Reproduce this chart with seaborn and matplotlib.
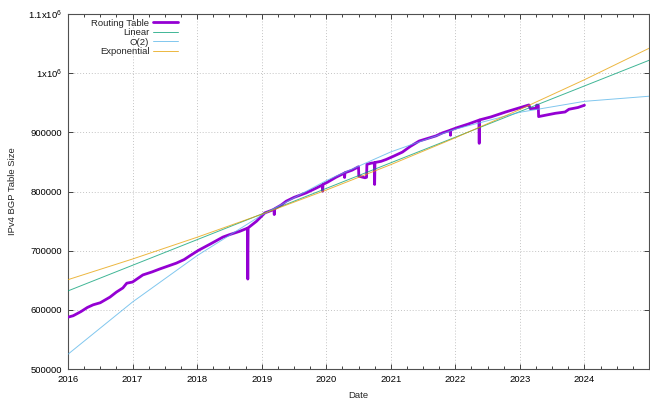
import matplotlib
matplotlib.use("Agg")
import matplotlib.pyplot as plt
import seaborn as sns
import pandas as pd
from matplotlib.ticker import FixedLocator, MultipleLocator

# ---- data ----
rt_year = [2016.00, 2016.08, 2016.20, 2016.30, 2016.39, 2016.50, 2016.65, 2016.75,
           2016.85, 2016.91, 2017.00, 2017.16, 2017.30, 2017.42, 2017.55, 2017.68,
           2017.80, 2017.89, 2018.02, 2018.20, 2018.40, 2018.50, 2018.66, 2018.78,
           2018.785, 2018.79, 2018.92, 2019.05, 2019.15, 2019.19, 2019.195, 2019.20,
           2019.30, 2019.38, 2019.50, 2019.69, 2019.85, 2019.94, 2019.945, 2019.95,
           2020.02, 2020.15, 2020.28, 2020.285, 2020.29, 2020.40, 2020.50, 2020.505,
           2020.60, 2020.625, 2020.63, 2020.70, 2020.745, 2020.75, 2020.755, 2020.85,
           2020.93, 2021.05, 2021.18, 2021.30, 2021.44, 2021.55, 2021.70, 2021.80,
           2021.92, 2021.925, 2021.93, 2022.03, 2022.20, 2022.365, 2022.37, 2022.375,
           2022.55, 2022.78, 2022.95, 2023.14, 2023.16, 2023.25, 2023.26, 2023.285,
           2023.29, 2023.40, 2023.55, 2023.70, 2023.76, 2023.90, 2024.00]
rt_size = [587600, 590000, 597000, 604000, 608500, 612000, 621500, 630000,
           637000, 645000, 647000, 659000, 664000, 669000, 674000, 679000,
           685000, 691500, 700500, 711000, 723000, 727000, 732700, 738000,
           652000, 738500, 749700, 763900, 768000, 770000, 761000, 770700,
           777000, 783600, 790000, 797700, 806000, 811000, 800500, 812000,
           815700, 824000, 831000, 823700, 831700, 836000, 841800, 825900,
           823200, 824000, 845800, 848000, 848500, 811900, 849000, 851000,
           854200, 860000, 866600, 876000, 885300, 889000, 894000, 899000,
           903500, 895000, 904000, 908000, 914000, 920500, 881400, 921000,
           926000, 934400, 940000, 946300, 940100, 940500, 946000, 945800,
           926600, 929000, 932200, 934400, 939000, 942000, 945800]

fit_year = [2016, 2017, 2018, 2019, 2020, 2021, 2022, 2023, 2024, 2025]
linear_fit = [632000, 675300, 718600, 761900, 805200, 848500, 891800, 935100, 978400, 1021700]
quad_fit = [525000, 613300, 691600, 760000, 818400, 866900, 905400, 933900, 952400, 961000]
exp_fit = [651000, 685900, 722700, 761500, 802400, 845400, 890800, 938600, 988900, 1042000]

x_ticks = [2016, 2017, 2018, 2019, 2020, 2021, 2022, 2023, 2024]
y_ticks = [500000, 600000, 700000, 800000, 900000, 1000000, 1100000]
y_tick_labels = ["500000", "600000", "700000", "800000", "900000",
                 r"1x10$^{6}$", r"1.1x10$^{6}$"]

# ---- style ----
sns.set_style("white")
plt.rcParams["font.family"] = ["Liberation Sans", "DejaVu Sans"]
plt.rcParams["font.size"] = 6.8
plt.rcParams["mathtext.fontset"] = "custom"
plt.rcParams["mathtext.rm"] = "Liberation Sans"
plt.rcParams["mathtext.it"] = "Liberation Sans"

fig = plt.figure(figsize=(6.5, 4.01), dpi=100)
ax = fig.add_axes([68 / 650, 1 - 369 / 401, (649 - 68) / 650, (369 - 14) / 401])

rt = pd.DataFrame({"year": rt_year, "size": rt_size})
fits = pd.DataFrame({"year": fit_year, "lin": linear_fit, "quad": quad_fit, "exp": exp_fit})

sns.lineplot(data=rt, x="year", y="size", ax=ax, color="#9400d3", lw=2.0,
             estimator=None, sort=False, label="Routing Table", zorder=3)
sns.lineplot(data=fits, x="year", y="lin", ax=ax, color="#009e73", lw=0.7, alpha=0.75,
             estimator=None, label="Linear", zorder=4)
sns.lineplot(data=fits, x="year", y="quad", ax=ax, color="#56b4e9", lw=0.7, alpha=0.75,
             estimator=None, label="O(2)", zorder=4)
sns.lineplot(data=fits, x="year", y="exp", ax=ax, color="#e69f00", lw=0.7, alpha=0.75,
             estimator=None, label="Exponential", zorder=4)

ax.set_xlim(2016, 2025)
ax.set_ylim(500000, 1100000)
ax.xaxis.set_major_locator(FixedLocator(x_ticks))
ax.set_xticklabels([str(v) for v in x_ticks])
ax.xaxis.set_minor_locator(MultipleLocator(0.25))
ax.yaxis.set_major_locator(FixedLocator(y_ticks))
ax.set_yticklabels(y_tick_labels)

ax.tick_params(which="major", direction="in", length=3.6, width=0.7, color="#404040",
               top=True, right=True, bottom=True, left=True, labelsize=6.8, pad=4,
               labelcolor="black")
ax.tick_params(which="minor", direction="in", length=2.0, width=0.7, color="#404040",
               top=True, bottom=True, left=False, right=False)

ax.grid(True, which="major", color="#c4c4c4", linestyle=(0, (1, 2)), linewidth=0.7)
for s in ax.spines.values():
    s.set_color("#505050")
    s.set_linewidth(0.8)

ax.set_xlabel("Date", fontsize=6.8, labelpad=5)
ax.set_ylabel("IPv4 BGP Table Size", fontsize=6.8, labelpad=8)

leg = ax.legend(loc="upper left", bbox_to_anchor=(0.032, 1.0), frameon=False,
                markerfirst=False, fontsize=6.8, handlelength=2.7,
                handletextpad=0.35, labelspacing=0.05, borderaxespad=0.2,
                borderpad=0.3)

fig.savefig("out.png", dpi=100)
